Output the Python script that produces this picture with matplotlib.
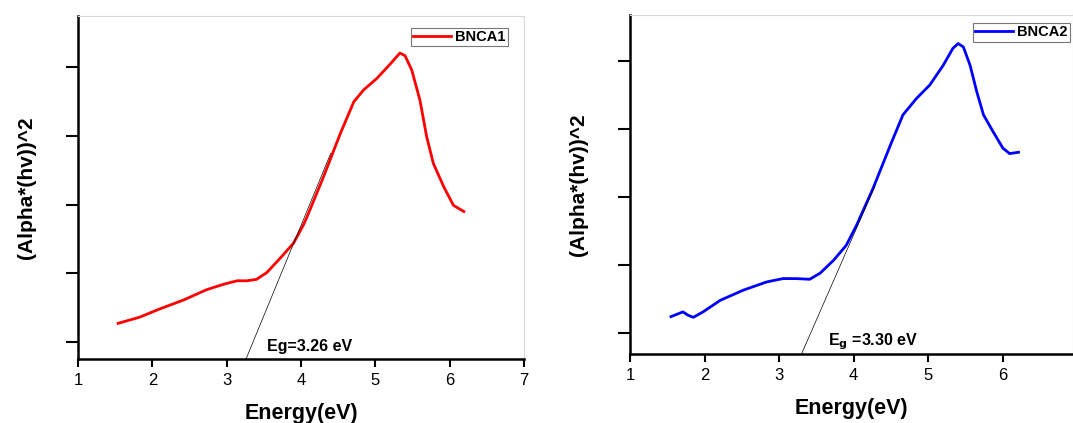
import matplotlib.pyplot as plt

plt.rcParams['font.family'] = ['Liberation Sans', 'DejaVu Sans']

# BNCA1 Tauc plot
e1 = [1.54, 1.83, 2.10, 2.42, 2.73, 2.96, 3.14, 3.27, 3.40, 3.54, 3.72, 3.90, 4.03, 4.08,
      4.30, 4.53, 4.71, 4.84, 5.02, 5.20, 5.33, 5.40, 5.49, 5.60, 5.69, 5.78, 5.92, 6.05,
      6.19]
a1 = [0.27, 0.36, 0.48, 0.61, 0.76, 0.84, 0.89, 0.89, 0.91, 1.01, 1.22, 1.44, 1.70, 1.82,
      2.40, 3.04, 3.50, 3.67, 3.84, 4.05, 4.21, 4.17, 3.96, 3.52, 2.99, 2.60, 2.26, 1.99,
      1.90]
fit1_x = [3.26, 4.40]
fit1_y = [-0.25, 2.75]

# BNCA2 Tauc plot
e2 = [1.55, 1.71, 1.78, 1.85, 1.98, 2.21, 2.52, 2.83, 3.05, 3.23, 3.41, 3.55, 3.73, 3.90,
      4.04, 4.26, 4.49, 4.66, 4.84, 5.02, 5.20, 5.33, 5.40, 5.47, 5.56, 5.65, 5.74, 5.87,
      6.00, 6.09, 6.21]
a2 = [0.24, 0.31, 0.26, 0.23, 0.31, 0.48, 0.63, 0.75, 0.80, 0.80, 0.79, 0.88, 1.07, 1.29,
      1.59, 2.13, 2.76, 3.21, 3.45, 3.65, 3.94, 4.19, 4.26, 4.21, 3.94, 3.55, 3.21, 2.96,
      2.72, 2.64, 2.66]
fit2_x = [3.30, 4.28]
fit2_y = [-0.31, 2.15]

yticks = [0, 1, 2, 3, 4]

fig = plt.figure(figsize=(10.73, 4.23), dpi=100)
ax1 = fig.add_axes([0.0727, 0.1513, 0.4157, 0.8109])
ax2 = fig.add_axes([0.5871, 0.1631, 0.4129, 0.8014])


def style(ax, xmax, ymin, ymax, xt, leg_anchor):
    ax.set_xlim(1, xmax)
    ax.set_ylim(ymin, ymax)
    ax.set_xticks(xt)
    ax.set_yticks(yticks)
    ax.set_yticklabels([])
    for s in ['left', 'bottom']:
        ax.spines[s].set_linewidth(1.8)
        ax.spines[s].set_color('black')
    for s in ['top', 'right']:
        ax.spines[s].set_linewidth(0.8)
        ax.spines[s].set_color('#d8d8d8')
    ax.tick_params(axis='y', direction='out', length=9, width=1.5)
    ax.tick_params(axis='x', direction='out', length=6, width=1.5, labelsize=12, pad=4)
    ax.set_xlabel('Energy(eV)', fontsize=15.5, fontweight='bold', labelpad=11)
    ax.set_ylabel('(Alpha*(hv))^2', fontsize=15, fontweight='bold', labelpad=18)
    leg = ax.legend(loc='upper right', bbox_to_anchor=leg_anchor, borderaxespad=0,
                    prop={'weight': 'bold', 'size': 10.5}, fancybox=False,
                    handlelength=2.6, borderpad=0.15, handletextpad=0.3)
    leg.get_frame().set_edgecolor('#555555')
    leg.get_frame().set_linewidth(0.8)


ax1.plot(e1, a1, color='red', lw=2, solid_joinstyle='round', label='BNCA1')
ax1.plot(fit1_x, fit1_y, color='black', lw=0.5)
ax1.text(3.54, -0.07, 'Eg=3.26 eV', fontsize=11.5, fontweight='bold', va='center')
style(ax1, 7, -0.25, 4.75, [1, 2, 3, 4, 5, 6, 7], (0.964, 0.965))

ax2.plot(e2, a2, color='blue', lw=2, solid_joinstyle='round', label='BNCA2')
ax2.plot(fit2_x, fit2_y, color='black', lw=0.5)
ax2.text(3.65, -0.13, r'E$_\mathbf{g}$ =3.30 eV', fontsize=11.5, fontweight='bold', va='center')
style(ax2, 6.94, -0.31, 4.68, [1, 2, 3, 4, 5, 6], (0.993, 0.976))

fig.savefig('out.png', dpi=100)
